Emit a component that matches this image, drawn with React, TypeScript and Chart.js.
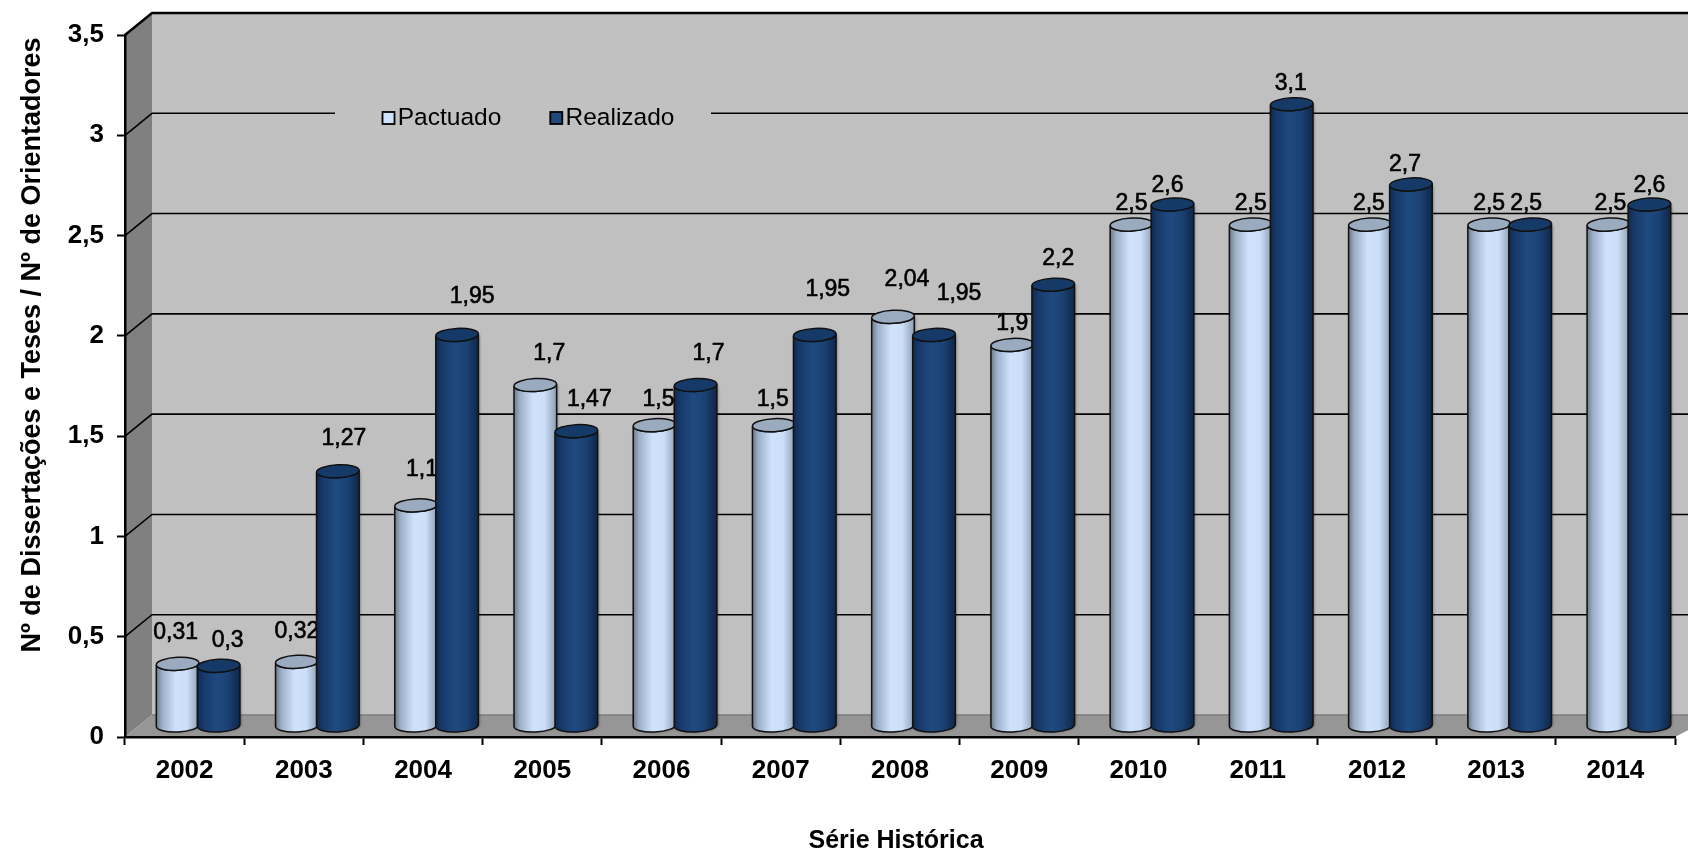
import React, { useEffect, useRef } from "react";
import { Chart, registerables, BarElement } from "chart.js";

const years = ["2002","2003","2004","2005","2006","2007","2008","2009","2010","2011","2012","2013","2014"];
const pactuado = [0.31,0.32,1.1,1.7,1.5,1.5,2.04,1.9,2.5,2.5,2.5,2.5,2.5];
const realizado = [0.3,1.27,1.95,1.47,1.7,1.95,1.95,2.2,2.6,3.1,2.7,2.5,2.6];
const pactuadoLabels = ["0,31","0,32","1,1","1,7","1,5","1,5","2,04","1,9","2,5","2,5","2,5","2,5","2,5"];
const realizadoLabels = ["0,3","1,27","1,95","1,47","1,7","1,95","1,95","2,2","2,6","3,1","2,7","2,5","2,6"];
const yTicks = ["0","0,5","1","1,5","2","2,5","3","3,5"];

// Manual label placement of the original, relative to the top of each (depth-shifted) bar
const labelShift = [
  { dx: [-2,0,6,14,4,-1,14,0,0,0,-1,0,2], dy: [-31,-30,-36,-31,-25,-25,-37,-21,-21,-21,-21,-21,-21] },
  { dx: [9,6,15,13,13,13,25,5,-5,-1,-6,-4,0], dy: [-25,-33,-38,-32,-31,-45,-41,-26,-19,-21,-20,-21,-19] },
];

const FONT = "'Liberation Sans', Arial, sans-serif";
const DEPTH_X = 27;
const DEPTH_Y = 22;
const RY = 6.5;
const TILT = -0.05;

const LIGHT = { stops: ["#6d7885","#9eb0c9","#cfe2fb","#cbdff8","#8e9eb4"], top: "#9aaabf" };
const DARK = { stops: ["#10294c","#17396a","#1f4a80","#1b4174","#0e2747"], top: "#153a68" };

class CylinderBar extends BarElement {
  static id = "cylinderBar";
  draw(ctx: CanvasRenderingContext2D) {
    const { x, y, base, width } = (this as any).getProps(["x","y","base","width"]);
    const pal = (this as any).options.backgroundColor === "#1f4a80" ? DARK : LIGHT;
    const cx = x + DEPTH_X / 2;
    const top = y - DEPTH_Y / 2;
    const bot = base - DEPTH_Y / 2;
    const rx = width / 2;
    ctx.save();
    const g = ctx.createLinearGradient(cx - rx, 0, cx + rx, 0);
    [0, 0.14, 0.45, 0.72, 1].forEach((p, i) => g.addColorStop(p, pal.stops[i]));
    ctx.beginPath();
    ctx.ellipse(cx, bot, rx, RY, TILT, Math.PI, 0, true);
    ctx.ellipse(cx, top, rx, RY, TILT, 0, Math.PI, false);
    ctx.closePath();
    ctx.shadowColor = "rgba(0,0,0,0.45)";
    ctx.shadowBlur = 3;
    ctx.shadowOffsetX = 1;
    ctx.fillStyle = g;
    ctx.fill();
    ctx.shadowColor = "transparent";
    ctx.lineWidth = 1.5;
    ctx.strokeStyle = "#111";
    ctx.stroke();
    ctx.beginPath();
    ctx.ellipse(cx, top, rx, RY, TILT, 0, Math.PI * 2);
    ctx.fillStyle = pal.top;
    ctx.fill();
    ctx.stroke();
    ctx.restore();
  }
}

Chart.register(...registerables, CylinderBar);
(Chart.defaults as any).datasets.bar.dataElementType = "cylinderBar";

const shiftTitle = (scale: any, dx: number, dy: number) => {
  if (scale.__shifted) return;
  scale.__shifted = true;
  const orig = scale.drawTitle.bind(scale);
  scale.drawTitle = (...a: any[]) => {
    const c = scale.ctx;
    c.save();
    c.translate(dx, dy);
    orig(...a);
    c.restore();
  };
};

const stage3d = {
  id: "stage3d",
  beforeLayout(chart: any) {
    const lg = chart.legend;
    if (lg && !lg.__flat) {
      lg.__flat = true;
      const fit = lg.fit.bind(lg);
      lg.fit = () => { fit(); lg.height = 0; };
    }
  },
  afterLayout(chart: any) {
    const lg = chart.legend;
    lg.left = 286; lg.right = 762; lg.top = 66; lg.bottom = 141;
    lg.width = 476;
    lg.adjustHitBoxes();
    shiftTitle(chart.scales.y, 0, -41);
    shiftTitle(chart.scales.x, -4, 3);
  },
  beforeDraw(chart: any) {
    const { ctx, chartArea: a, scales: { y } } = chart;
    const W = chart.width;
    const bx = a.left + DEPTH_X;
    const by = (v: number) => y.getPixelForValue(v) - DEPTH_Y;
    ctx.save();
    // back wall
    ctx.fillStyle = "#c0c0c0";
    ctx.fillRect(bx, by(3.5), W - bx, by(0) - by(3.5));
    // side wall
    ctx.fillStyle = "#808080";
    ctx.beginPath();
    ctx.moveTo(a.left, a.top); ctx.lineTo(bx, by(3.5)); ctx.lineTo(bx, by(0)); ctx.lineTo(a.left, a.bottom);
    ctx.closePath(); ctx.fill();
    // floor
    ctx.fillStyle = "#969696";
    ctx.beginPath();
    ctx.moveTo(a.left, a.bottom); ctx.lineTo(bx, by(0)); ctx.lineTo(W + 30, by(0)); ctx.lineTo(a.right, a.bottom);
    ctx.closePath(); ctx.fill();
    ctx.strokeStyle = "#7d7d7d"; ctx.lineWidth = 1.5;
    ctx.beginPath(); ctx.moveTo(bx, by(0)); ctx.lineTo(W, by(0)); ctx.stroke();
    // grid lines on wall
    ctx.strokeStyle = "#000";
    y.ticks.forEach((t: any) => {
      if (t.value === 0) return;
      ctx.lineWidth = t.value === 3.5 ? 2.5 : 1.6;
      ctx.beginPath();
      ctx.moveTo(a.left, y.getPixelForValue(t.value));
      ctx.lineTo(bx, by(t.value));
      ctx.lineTo(W, by(t.value));
      ctx.stroke();
    });
    // legend patch and markers (markers sit tight against their text, unlike Chart.js's own)
    ctx.fillStyle = "#c1c1c1";
    ctx.fillRect(335, 93, 376, 48);
    (chart.legend.legendHitBoxes || []).forEach((hit: any, i: number) => {
      ctx.fillStyle = chart.data.datasets[i].backgroundColor;
      ctx.strokeStyle = "#000";
      ctx.lineWidth = 1.8;
      ctx.fillRect(hit.left + 9, 112, 12, 12);
      ctx.strokeRect(hit.left + 9, 112, 12, 12);
    });
    ctx.restore();
  },
  // Dark series sits in front of the light one, with each series' labels right after its bars
  beforeDatasetsDraw(chart: any) {
    const { ctx } = chart;
    [0, 1].forEach((index) => {
      const meta = chart.getDatasetMeta(index);
      meta.controller.draw();
      const texts = index === 0 ? pactuadoLabels : realizadoLabels;
      const shift = labelShift[index];
      ctx.save();
      ctx.font = `23px ${FONT}`;
      ctx.fillStyle = "#000";
      ctx.strokeStyle = "#000";
      ctx.lineWidth = 0.6;
      ctx.textAlign = "center";
      ctx.textBaseline = "middle";
      meta.data.forEach((el: any, i: number) => {
        const lx = el.x + DEPTH_X / 2 + shift.dx[i];
        const ly = el.y - DEPTH_Y / 2 + shift.dy[i];
        ctx.fillText(texts[i], lx, ly);
        ctx.strokeText(texts[i], lx, ly);
      });
      ctx.restore();
    });
    return false;
  },
};

export default function App() {
  const ref = useRef<HTMLCanvasElement>(null);
  useEffect(() => {
    const chart = new Chart(ref.current!, {
      type: "bar",
      data: {
        labels: years,
        datasets: [
          { label: "Pactuado", data: pactuado, backgroundColor: "#cfe2fb", borderColor: "#000", borderWidth: 1.5 } as any,
          { label: "Realizado", data: realizado, backgroundColor: "#1f4a80", borderColor: "#000", borderWidth: 1.5 } as any,
        ],
      },
      plugins: [stage3d],
      options: {
        responsive: false,
        animation: false,
        events: [],
        layout: { padding: { top: 35, right: 13, left: 0, bottom: 0 } },
        datasets: { bar: { categoryPercentage: 0.688, barPercentage: 1.04 } },
        plugins: {
          tooltip: { enabled: false },
          legend: {
            display: true,
            position: "top",
            labels: {
              boxWidth: 12,
              boxHeight: 12,
              padding: 40,
              color: "#000",
              font: { family: FONT, size: 24.5 },
              generateLabels: (chart: any) =>
                Chart.defaults.plugins.legend.labels.generateLabels(chart).map((it: any) => ({
                  ...it,
                  fillStyle: "transparent",
                  strokeStyle: "transparent",
                  lineWidth: 0,
                })),
            },
          },
        },
        scales: {
          x: {
            afterFit: (s: any) => { s.height = 116; },
            grid: { offset: true, drawOnChartArea: false, drawTicks: true, tickLength: 8, tickColor: "#000", tickWidth: 2 },
            border: { display: true, color: "#000", width: 2.5 },
            ticks: { color: "#000", padding: 10, font: { family: FONT, size: 26, weight: "bold" }, maxRotation: 0 },
            title: { display: true, text: "Série Histórica", color: "#000", padding: 0, font: { family: FONT, size: 25, weight: "bold" } },
          },
          y: {
            min: 0,
            max: 3.5,
            afterFit: (s: any) => { s.width = 125; },
            grid: { drawOnChartArea: false, drawTicks: true, tickLength: 8, tickColor: "#000", tickWidth: 2 },
            border: { display: true, color: "#000", width: 2.5 },
            ticks: {
              stepSize: 0.5,
              color: "#000",
              padding: 13,
              font: { family: FONT, size: 26, weight: "bold" },
              callback: (_v: any, i: number) => yTicks[i],
            },
            title: { display: true, text: "Nº de Dissertações e Teses / Nº de Orientadores", color: "#000", padding: { top: 16, bottom: 0 }, font: { family: FONT, size: 27, weight: "bold" } },
          },
        },
      },
    } as any);
    return () => chart.destroy();
  }, []);
  return (
    <canvas
      ref={ref}
      width={1688}
      height={853}
      style={{ position: "fixed", left: 0, top: 0, width: 1688, height: 853, filter: "blur(0.6px)" }}
    />
  );
}
